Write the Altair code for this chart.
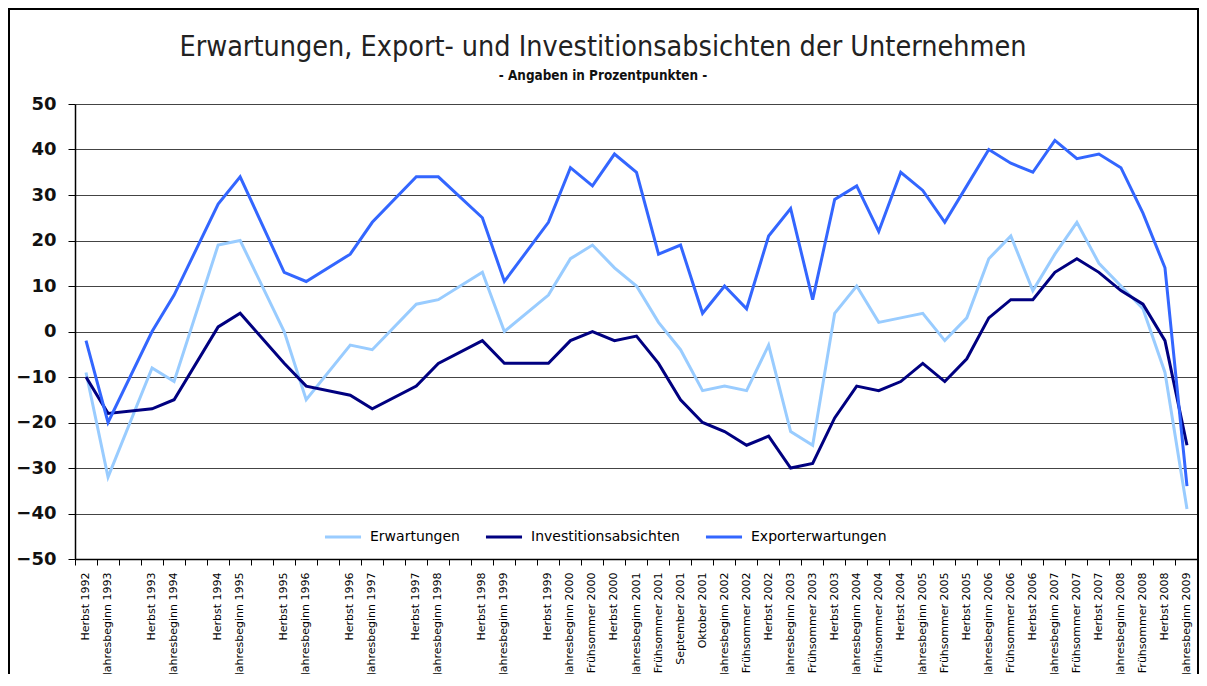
import json
import altair as alt
import pandas as pd

tick_labels = ["Herbst 1992", "Jahresbeginn 1993", "", "Herbst 1993", "Jahresbeginn 1994", "",
               "Herbst 1994", "Jahresbeginn 1995", "", "Herbst 1995", "Jahresbeginn 1996", "",
               "Herbst 1996", "Jahresbeginn 1997", "", "Herbst 1997", "Jahresbeginn 1998", "",
               "Herbst 1998", "Jahresbeginn 1999", "", "Herbst 1999", "Jahresbeginn 2000",
               "Frühsommer 2000", "Herbst 2000", "Jahresbeginn 2001", "Frühsommer 2001",
               "September 2001", "Oktober 2001", "Jahresbeginn 2002", "Frühsommer 2002",
               "Herbst 2002", "Jahresbeginn 2003", "Frühsommer 2003", "Herbst 2003",
               "Jahresbeginn 2004", "Frühsommer 2004", "Herbst 2004", "Jahresbeginn 2005",
               "Frühsommer 2005", "Herbst 2005", "Jahresbeginn 2006", "Frühsommer 2006",
               "Herbst 2006", "Jahresbeginn 2007", "Frühsommer 2007", "Herbst 2007",
               "Jahresbeginn 2008", "Frühsommer 2008", "Herbst 2008", "Jahresbeginn 2009"]

erwartungen = [-9, -32, None, -8, -11, None, 19, 20, None, 0, -15, None, -3, -4, None, 6, 7, None,
               13, 0, None, 8, 16, 19, 14, 10, 2, -4, -13, -12, -13, -3, -22, -25, 4, 10, 2, 3, 4,
               -2, 3, 16, 21, 9, 17, 24, 15, 10, 5, -9, -39]
investitionsabsichten = [-10, -18, None, -17, -15, None, 1, 4, None, -7, -12, None, -14, -17, None,
                         -12, -7, None, -2, -7, None, -7, -2, 0, -2, -1, -7, -15, -20, -22, -25,
                         -23, -30, -29, -19, -12, -13, -11, -7, -11, -6, 3, 7, 7, 13, 16, 13, 9,
                         6, -2, -25]
exporterwartungen = [-2, -20, None, 0, 8, None, 28, 34, None, 13, 11, None, 17, 24, None, 34, 34,
                     None, 25, 11, None, 24, 36, 32, 39, 35, 17, 19, 4, 10, 5, 21, 27, 7, 29, 32,
                     22, 35, 31, 24, 32, 40, 37, 35, 42, 38, 39, 36, 26, 14, -34]

series_names = ["Erwartungen", "Investitionsabsichten", "Exporterwartungen"]
series_colors = ["#99CCFF", "#000080", "#3366FF"]
y_ticks = list(range(-50, 51, 10))

title_text = "Erwartungen, Export- und Investitionsabsichten der Unternehmen"
subtitle_text = "- Angaben in Prozentpunkten -"

rows = []
for name, vals in zip(series_names, [erwartungen, investitionsabsichten, exporterwartungen]):
    for i, v in enumerate(vals):
        if v is not None:
            rows.append({"idx": i, "serie": name, "wert": v})
df = pd.DataFrame(rows)

W, H = 1123, 455
label_expr = json.dumps(tick_labels, ensure_ascii=False) + "[datum.value]"
narrow = "Liberation Sans Narrow, DejaVu Sans Condensed, Arial Narrow, sans-serif"

lines = alt.Chart(df).mark_line(strokeWidth=3).encode(
    x=alt.X("idx:O", bandPosition=0.5,
            scale=alt.Scale(type="band", domain=list(range(len(tick_labels))),
                            paddingInner=0, paddingOuter=0, round=False),
            axis=alt.Axis(title=None, labelExpr=label_expr, labelAngle=270,
                          labelFont="DejaVu Sans", labelFontSize=11, labelColor="#000",
                          labelOverlap=False, labelPadding=7,
                          bandPosition=1, tickExtra=True, tickSize=6, tickColor="#000",
                          domainColor="#000", domainWidth=1.5, grid=False)),
    y=alt.Y("wert:Q", scale=alt.Scale(domain=[-50, 50], nice=False, zero=False),
            axis=alt.Axis(title=None, values=y_ticks, tickSize=7, tickColor="#000",
                          labelFont="DejaVu Sans", labelFontSize=18, labelFontWeight="bold",
                          labelColor="#111", labelPadding=12,
                          domainColor="#000", domainWidth=1.5,
                          grid=True, gridColor="#444", gridWidth=1)),
    color=alt.Color("serie:N", sort=series_names,
                    scale=alt.Scale(domain=series_names, range=series_colors),
                    legend=alt.Legend(title=None, orient="none", legendX=248, legendY=413,
                                      direction="horizontal", symbolType="stroke",
                                      symbolSize=1300, symbolStrokeWidth=3,
                                      labelFont="DejaVu Sans", labelFontSize=14,
                                      labelColor="#000", columnPadding=19, labelOffset=7)),
)

frame = alt.Chart(alt.Data(values=[{"k": 1}])).mark_rect(
    fill="transparent", stroke="#000", strokeWidth=2
).encode(x=alt.value(-66), x2=alt.value(W), y=alt.value(-95), y2=alt.value(H + 200))

title = alt.Chart(alt.Data(values=[{"t": title_text}])).mark_text(
    font=narrow, fontSize=28.5, color="#222", align="center", baseline="alphabetic"
).encode(text="t:N", x=alt.value(528), y=alt.value(-48))

subtitle = alt.Chart(alt.Data(values=[{"t": subtitle_text}])).mark_text(
    font=narrow, fontSize=13.4, fontWeight="bold", color="#111", align="center",
    baseline="alphabetic"
).encode(text="t:N", x=alt.value(528), y=alt.value(-24))

chart = alt.layer(lines, frame, title, subtitle).properties(
    width=W, height=H,
    autosize=alt.AutoSizeParams(type="none"),
    padding={"left": 67, "top": 96, "right": 1, "bottom": 115},
).configure_view(stroke=None).configure(background="white")

chart.save("out.html", embed_options={"renderer": "svg", "actions": False})
